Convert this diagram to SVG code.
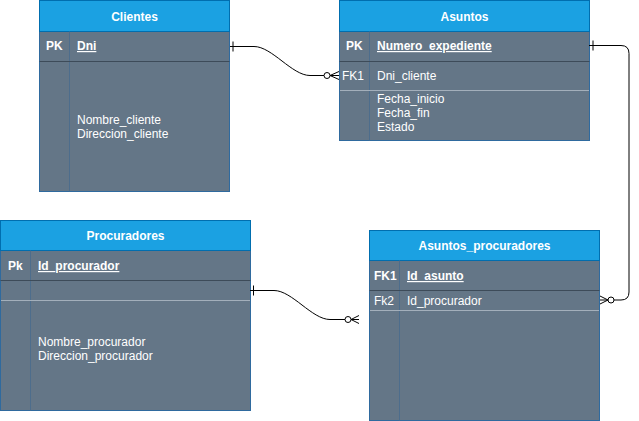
<svg xmlns="http://www.w3.org/2000/svg" width="639" height="421" viewBox="0 0 639 421">
<defs>
<style>
.hd{fill:#1ba1e2;stroke:#006eaf;stroke-width:1}
.bd{fill:#647687;stroke:#2f6a9e;stroke-width:1}
.col{stroke:#4d6d8c;stroke-width:1}
.dk{stroke:#3d4b59;stroke-width:1}
.lt{stroke:#a3afbb;stroke-width:1}
text{font-family:"Liberation Sans",Arial,sans-serif;font-size:12px;fill:#ffffff}
.t{font-weight:bold;text-anchor:middle}
.b{font-weight:bold}
.u{text-decoration:underline}
.c{fill:none;stroke:#000000;stroke-width:1}
</style>
</defs>
<rect width="639" height="421" fill="#ffffff"/>
<g id="clientes">
<rect class="bd" x="39.5" y="31.5" width="190" height="160"/>
<rect class="hd" x="39.5" y="0.5" width="190" height="31"/>
<line class="col" x1="69.5" y1="31.5" x2="69.5" y2="191.5"/>
<line class="dk" x1="39.5" y1="61.5" x2="229.5" y2="61.5"/>
<text class="t" x="134.5" y="21">Clientes</text>
<text class="b" x="46" y="50">PK</text>
<text class="b u" x="77" y="50">Dni</text>
<text x="77" y="124">Nombre_cliente</text>
<text x="77" y="138">Direccion_cliente</text>
</g>
<g id="asuntos">
<rect class="bd" x="339.5" y="31.5" width="250" height="109"/>
<rect class="hd" x="339.5" y="0.5" width="250" height="31"/>
<line class="col" x1="369.5" y1="31.5" x2="369.5" y2="140.5"/>
<line class="dk" x1="339.5" y1="61.5" x2="589.5" y2="61.5"/>
<line class="lt" x1="340" y1="90.5" x2="589" y2="90.5"/>
<text class="t" x="464.5" y="21">Asuntos</text>
<text class="b" x="346" y="50">PK</text>
<text class="b u" x="377" y="50">Numero_expediente</text>
<text x="342" y="80">FK1</text>
<text x="377" y="80">Dni_cliente</text>
<text x="377" y="103">Fecha_inicio</text>
<text x="377" y="117">Fecha_fin</text>
<text x="377" y="131">Estado</text>
</g>
<g id="procuradores">
<rect class="bd" x="0.5" y="250.5" width="250" height="160"/>
<rect class="hd" x="0.5" y="220.5" width="250" height="30"/>
<line class="col" x1="30.5" y1="250.5" x2="30.5" y2="410.5"/>
<line class="dk" x1="0.5" y1="280.5" x2="250.5" y2="280.5"/>
<line class="lt" x1="1" y1="300.5" x2="250" y2="300.5"/>
<text class="t" x="125.5" y="240">Procuradores</text>
<text class="b" x="8" y="270">Pk</text>
<text class="b u" x="38" y="270">Id_procurador</text>
<text x="38" y="346">Nombre_procurador</text>
<text x="38" y="360">Direccion_procurador</text>
</g>
<g id="asuntos_procuradores">
<rect class="bd" x="369.5" y="260.5" width="230" height="160"/>
<rect class="hd" x="369.5" y="230.5" width="230" height="30"/>
<line class="col" x1="399.5" y1="260.5" x2="399.5" y2="420.5"/>
<line class="dk" x1="369.5" y1="290.5" x2="599.5" y2="290.5"/>
<line class="lt" x1="370" y1="310.5" x2="599" y2="310.5"/>
<text class="t" x="484.5" y="250">Asuntos_procuradores</text>
<text class="b" x="374" y="280">FK1</text>
<text class="b u" x="407" y="280">Id_asunto</text>
<text x="374" y="305">Fk2</text>
<text x="407" y="305">Id_procurador</text>
</g>
<g id="connectors">
<path class="c" d="M230 46.5 H254 C272 46.5 292 75.5 310 75.5 H324"/>
<line class="c" x1="233" y1="41.5" x2="233" y2="51.5"/>
<circle class="c" cx="327" cy="75.5" r="3"/>
<path class="c" d="M339 71.5 L330 75.5 L339 79.5 M330 75.5 H339"/>

<path class="c" d="M589 45.5 H621 Q629 45.5 629 53.5 V292 Q629 300 621 300 H614"/>
<line class="c" x1="593" y1="40.5" x2="593" y2="50.5"/>
<circle class="c" cx="611" cy="300" r="3"/>
<path class="c" d="M600 296 L608 300 L600 304 M600 300 H608"/>

<path class="c" d="M250 290.5 H274 C292 290.5 312 319.5 330 319.5 H345"/>
<line class="c" x1="253.5" y1="285.5" x2="253.5" y2="295.5"/>
<circle class="c" cx="348" cy="319.5" r="3"/>
<path class="c" d="M359 315.5 L351 319.5 L359 323.5 M351 319.5 H359"/>
</g>
</svg>
